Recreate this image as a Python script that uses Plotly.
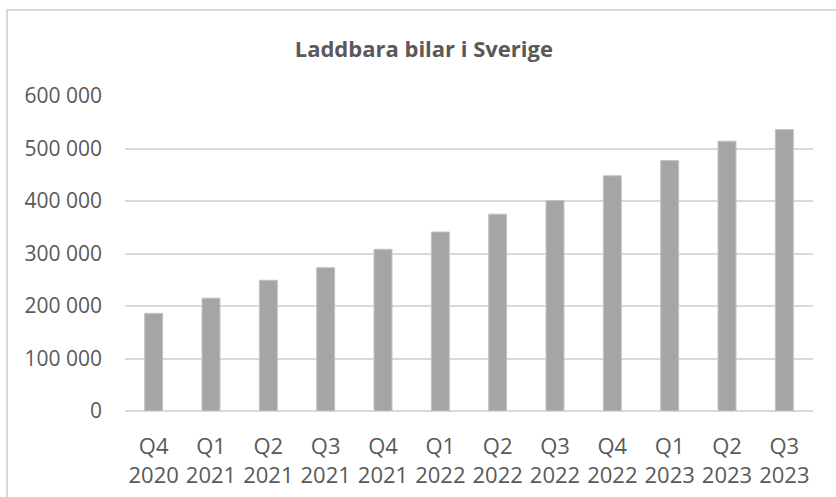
import plotly.graph_objects as go

quarters = ["Q4", "Q1", "Q2", "Q3", "Q4", "Q1", "Q2", "Q3", "Q4", "Q1", "Q2", "Q3"]
years = ["2020", "2021", "2021", "2021", "2021", "2022", "2022", "2022", "2022", "2023", "2023", "2023"]
values = [186000, 215000, 249000, 273000, 308000, 341000, 375000, 401000, 448000, 477000, 514000, 536000]
y_ticks = [0, 100000, 200000, 300000, 400000, 500000, 600000]
y_tick_labels = ["0", "100 000", "200 000", "300 000", "400 000", "500 000", "600 000"]
title_text = "Laddbara bilar i Sverige"

categories = [f"{q}<br>{y}" for q, y in zip(quarters, years)]

fig = go.Figure()
fig.add_trace(go.Bar(
    x=categories,
    y=values,
    marker=dict(color="#A5A5A5", line=dict(color="#C4C4C4", width=1)),
    hoverinfo="x+y",
))

font_family = "Open Sans"
fig.update_layout(
    width=836,
    height=497,
    margin=dict(l=125, r=23, t=96, b=86, autoexpand=False),
    paper_bgcolor="white",
    plot_bgcolor="white",
    bargap=0.686,
    showlegend=False,
    title=dict(
        text=f"<b>{title_text}</b>",
        font=dict(family=font_family, size=22, color="#595959"),
        x=0.507, xref="container", xanchor="center",
        y=1 - 49 / 497, yref="container", yanchor="middle",
        automargin=False,
    ),
    font=dict(family=font_family, size=22, color="#595959"),
    xaxis=dict(
        type="category",
        automargin=False,
        showgrid=False,
        showline=False,
        zeroline=False,
        ticks="",
        tickfont=dict(family=font_family, size=22, color="#595959"),
        ticklabelstandoff=20,
        fixedrange=True,
    ),
    yaxis=dict(
        range=[0, 600000],
        automargin=False,
        tickvals=y_ticks,
        ticktext=y_tick_labels,
        showgrid=True,
        gridcolor="#D9D9D9",
        gridwidth=1.5,
        zeroline=True,
        zerolinecolor="#D9D9D9",
        zerolinewidth=1.5,
        showline=False,
        ticks="",
        tickfont=dict(family=font_family, size=21, color="#595959"),
        ticklabelstandoff=22,
        fixedrange=True,
    ),
    shapes=[
        dict(type="rect", xref="paper", yref="paper",
             x0=(7 - 125) / 688, x1=2.0,
             y0=-1.0, y1=(411 - 10) / 315,
             line=dict(color="#D9D9D9", width=2), fillcolor="rgba(0,0,0,0)",
             layer="below"),
    ],
)

fig.write_html(
    "out.html",
    config={"displayModeBar": False},
    post_script="document.body.style.margin='0';document.body.style.overflow='hidden';",
)
